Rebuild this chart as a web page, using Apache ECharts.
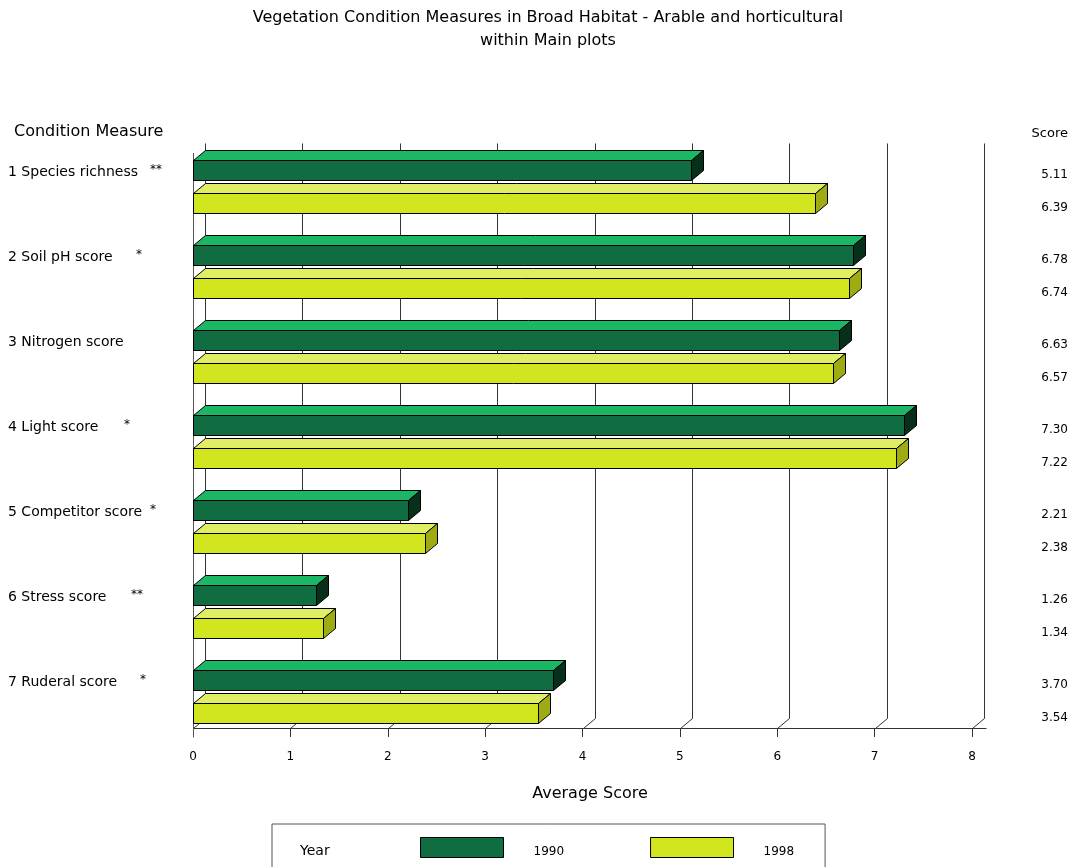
<!DOCTYPE html>
<html>
<head>
<meta charset="utf-8">
<script src="https://cdn.jsdelivr.net/npm/echarts@6/dist/echarts.min.js"></script>
<style>
  html, body { margin: 0; padding: 0; background: #ffffff; }
  #chart { width: 1074px; height: 867px; }
</style>
</head>
<body>
<div id="chart"></div>
<script>
// ---- data ----
const categories = [
  '1 Species richness',
  '2 Soil pH score',
  '3 Nitrogen score',
  '4 Light score',
  '5 Competitor score',
  '6 Stress score',
  '7 Ruderal score'
];
const significance = ['**', '*', '', '*', '*', '**', '*'];
const years = ['1990', '1998'];
const scores1990 = [5.11, 6.78, 6.63, 7.30, 2.21, 1.26, 3.70];
const scores1998 = [6.39, 6.74, 6.57, 7.22, 2.38, 1.34, 3.54];
const xTicks = [0, 1, 2, 3, 4, 5, 6, 7, 8];

// ---- layout & style ----
const FONT = '"DejaVu Sans", "Liberation Sans", Arial, sans-serif';
const LINE = '#333333';
const DEPTH_X = 12;        // pseudo-3D depth offset
const DEPTH_Y = 10;
const BAR_H = 20;          // front face height
const BAR_SHIFT = 16.5;    // offset of each bar from band centre
const AXIS_RAISE = 11;     // front axis line sits above grid bottom
const VALUE_COL = 96;      // value column, right of plot
const starLeft = [150, 136, 0, 124, 150, 131, 140];

const faces = {
  '1990': { front: '#0f6d41', top: '#1cb765', side: '#07301b' },
  '1998': { front: '#d1e61e', top: '#dfee63', side: '#9eab12' }
};

const crisp = v => Math.round(v) + 0.5;

// back-wall grid lines with their diagonal foot
function renderGridLine(params, api) {
  const cs = params.coordSys;
  const x = crisp(api.coord([api.value(0), 0])[0]);
  const base = cs.y + cs.height - AXIS_RAISE + 0.5;
  const topBack = cs.y - 0.5;
  return {
    type: 'polyline',
    shape: { points: [[x, base], [x + DEPTH_X, base - DEPTH_Y], [x + DEPTH_X, topBack]] },
    style: { stroke: LINE, lineWidth: 1, fill: null },
    silent: true
  };
}

// front axis line and left wall
function renderFrame(params, api) {
  const cs = params.coordSys;
  const x0 = crisp(api.coord([api.value(0), 0])[0]);
  const x1 = crisp(api.coord([api.value(1), 0])[0]);
  const base = cs.y + cs.height - AXIS_RAISE + 0.5;
  return {
    type: 'group',
    children: [
      { type: 'line', shape: { x1: x0, y1: base, x2: x1 + DEPTH_X + 2, y2: base },
        style: { stroke: LINE, lineWidth: 1 } },
      { type: 'line', shape: { x1: x0, y1: cs.y + 9, x2: x0, y2: base + 9 },
        style: { stroke: '#555555', lineWidth: 1 } }
    ],
    silent: true
  };
}

function makeBarRenderer(year, shift) {
  const c = faces[year];
  return function (params, api) {
    const cs = params.coordSys;
    const v = api.value(0);
    const i = api.value(1);
    const p0 = api.coord([0, i]);
    const p1 = api.coord([v, i]);
    const cy = p0[1] + shift;
    const x0 = crisp(p0[0]);
    const x1 = crisp(p1[0]);
    const yT = crisp(cy - BAR_H / 2);
    const yB = yT + BAR_H;
    const edge = { stroke: '#000000', lineWidth: 1, lineJoin: 'miter' };
    return {
      type: 'group',
      children: [
        { type: 'polygon',
          shape: { points: [[x0, yT], [x0 + DEPTH_X, yT - DEPTH_Y], [x1 + DEPTH_X, yT - DEPTH_Y], [x1, yT]] },
          style: Object.assign({ fill: c.top }, edge) },
        { type: 'polygon',
          shape: { points: [[x1, yT], [x1 + DEPTH_X, yT - DEPTH_Y], [x1 + DEPTH_X, yB - DEPTH_Y], [x1, yB]] },
          style: Object.assign({ fill: c.side }, edge) },
        { type: 'polygon',
          shape: { points: [[x0, yT], [x1, yT], [x1, yB], [x0, yB]] },
          style: Object.assign({ fill: c.front }, edge) },
        { type: 'text',
          style: { text: v.toFixed(2), x: cs.x + cs.width + VALUE_COL, y: cy + 5,
                   align: 'right', verticalAlign: 'middle',
                   fill: '#000000', font: '12px ' + FONT } }
      ]
    };
  };
}

// category label rich styles: name block sized so the marks land in their column
const rich = { s: { fontSize: 12, fontFamily: FONT, color: '#000', padding: [0, 0, 5, 0] } };
categories.forEach((_, i) => {
  rich['n' + i] = { fontSize: 14, fontFamily: FONT, color: '#000',
                    width: starLeft[i] ? starLeft[i] - 8 : undefined };
});

const chart = echarts.init(document.getElementById('chart'), null, { renderer: 'canvas' });

chart.setOption({
  animation: false,
  backgroundColor: '#ffffff',
  grid: { left: 193, right: 102, top: 144, bottom: 128, containLabel: false },
  xAxis: {
    type: 'value', min: 0, max: 8, interval: 1,
    offset: -AXIS_RAISE,
    axisLine: { show: false },
    axisTick: { show: true, length: 9, lineStyle: { color: LINE, width: 1 } },
    axisLabel: { margin: 23, fontSize: 12, fontFamily: FONT, color: '#000' },
    splitLine: { show: false },
    name: 'Average Score', nameLocation: 'middle', nameGap: 58,
    nameTextStyle: { fontSize: 16, fontFamily: FONT, color: '#000', padding: [0, 0, 0, 15] }
  },
  yAxis: {
    type: 'category', data: categories, inverse: true,
    axisLine: { show: false }, axisTick: { show: false }, splitLine: { show: false },
    axisLabel: {
      align: 'left', margin: 185, verticalAlign: 'middle', padding: [0, 0, 29, 0],
      formatter: (value, idx) => '{n' + idx + '|' + value + '}' +
        (significance[idx] ? '{s|' + significance[idx] + '}' : ''),
      rich: rich
    }
  },
  legend: {
    left: 272, top: 824,
    orient: 'horizontal',
    padding: [13, 31, 12, 148],
    borderColor: '#555555', borderWidth: 1, borderRadius: 0,
    itemWidth: 83, itemHeight: 20, itemGap: 86,
    icon: 'rect',
    selectedMode: false,
    formatter: '{t|{name}}',
    textStyle: {
      fontSize: 12, fontFamily: FONT, color: '#000', padding: [0, 0, 0, 25],
      rich: { t: { fontSize: 12, fontFamily: FONT, color: '#000', padding: [8, 0, 0, 0] } }
    },
    data: years.map(y => ({
      name: y,
      itemStyle: { color: faces[y].front, borderColor: '#000000', borderWidth: 1 }
    }))
  },
  graphic: [
    { type: 'text', x: 548, y: 18,
      style: { text: 'Vegetation Condition Measures in Broad Habitat - Arable and horticultural',
               align: 'center', verticalAlign: 'middle', fill: '#000', font: '16px ' + FONT } },
    { type: 'text', x: 548, y: 41,
      style: { text: 'within Main plots', align: 'center', verticalAlign: 'middle',
               fill: '#000', font: '16px ' + FONT } },
    { type: 'text', x: 14, y: 132,
      style: { text: 'Condition Measure', align: 'left', verticalAlign: 'middle',
               fill: '#000', font: '16px ' + FONT } },
    { type: 'text', x: 1068, y: 134,
      style: { text: 'Score', align: 'right', verticalAlign: 'middle',
               fill: '#000', font: '13px ' + FONT } },
    { type: 'text', x: 300, y: 851,
      style: { text: 'Year', align: 'left', verticalAlign: 'middle',
               fill: '#000', font: '14px ' + FONT } }
  ],
  series: [
    { type: 'custom', name: 'grid', renderItem: renderGridLine, clip: false, z: 1,
      data: xTicks.map(t => [t]), encode: { x: 0 }, silent: true, tooltip: { show: false } },
    { type: 'custom', name: 'frame', renderItem: renderFrame, clip: false, z: 1,
      data: [[xTicks[0], xTicks[xTicks.length - 1]]], encode: { x: [0, 1] }, silent: true },
    { type: 'custom', name: years[0], renderItem: makeBarRenderer(years[0], -BAR_SHIFT),
      clip: false, z: 2, itemStyle: { color: faces[years[0]].front },
      data: scores1990.map((v, i) => [v, i]), encode: { x: 0, y: 1 } },
    { type: 'custom', name: years[1], renderItem: makeBarRenderer(years[1], BAR_SHIFT),
      clip: false, z: 2, itemStyle: { color: faces[years[1]].front },
      data: scores1998.map((v, i) => [v, i]), encode: { x: 0, y: 1 } }
  ]
});
</script>
</body>
</html>
